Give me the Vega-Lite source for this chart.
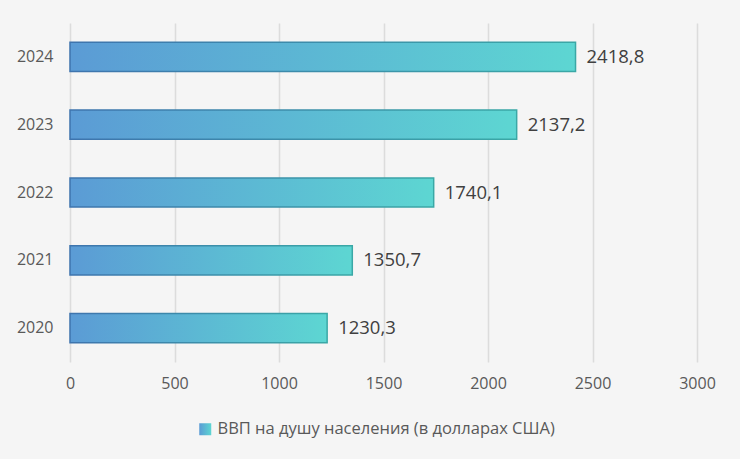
{
  "$schema": "https://vega.github.io/schema/vega-lite/v6.json",
  "autosize": "none",
  "padding": {"left": 70, "top": 23, "right": 43, "bottom": 97},
  "width": 627,
  "height": 339,
  "background": "#F5F5F5",
  "data": {
    "values": [
      {"year": "2024", "gdp": 2418.8},
      {"year": "2023", "gdp": 2137.2},
      {"year": "2022", "gdp": 1740.1},
      {"year": "2021", "gdp": 1350.7},
      {"year": "2020", "gdp": 1230.3}
    ]
  },
  "encoding": {
    "y": {
      "field": "year", "type": "nominal", "sort": null, "title": null,
      "scale": {"paddingInner": 0.57, "paddingOuter": 0.285},
      "axis": {"domain": false, "ticks": false, "labelPadding": 17, "labelFontSize": 16, "labelColor": "#595959", "labelFont": "Open Sans"}
    },
    "x": {
      "field": "gdp", "type": "quantitative", "title": null,
      "scale": {"domain": [0, 3000], "nice": false},
      "axis": {"values": [0, 500, 1000, 1500, 2000, 2500, 3000], "domain": false, "ticks": false, "labelFlush": false, "labelPadding": 13, "labelFontSize": 16, "labelColor": "#595959", "labelFont": "Open Sans", "gridColor": "#DCDCDC", "gridWidth": 1.5, "format": "d"}
    }
  },
  "layer": [
    {
      "mark": {
        "type": "bar",
        "strokeWidth": 1.5,
        "fill": {"gradient": "linear", "x1": 0, "y1": 0, "x2": 1, "y2": 0, "stops": [{"offset": 0, "color": "#5B9BD5"}, {"offset": 1, "color": "#5DD6D2"}]},
        "stroke": {"gradient": "linear", "x1": 0, "y1": 0, "x2": 1, "y2": 0, "stops": [{"offset": 0, "color": "#3E74AE"}, {"offset": 1, "color": "#3AA8A6"}]}
      },
      "encoding": {
        "opacity": {
          "datum": "ВВП на душу населения (в долларах США)", "type": "ordinal",
          "scale": {"range": [1]},
          "legend": {
            "title": null, "orient": "none", "legendX": 127, "legendY": 398,
            "symbolType": "square", "symbolSize": 144, "labelFontSize": 16.5, "labelColor": "#595959", "labelFont": "Open Sans", "labelOffset": 4,
            "symbolFillColor": "#5BB8D4", "symbolStrokeColor": "#3E8AAE", "symbolStrokeWidth": 1,
            "labelLimit": 500
          }
        }
      }
    },
    {
      "mark": {"type": "text", "align": "left", "dx": 11, "fontSize": 18.5, "color": "#404040", "font": "Open Sans"},
      "encoding": {
        "text": {"field": "gdp", "type": "quantitative", "format": ".1f"}
      }
    }
  ],
  "config": {
    "view": {"stroke": null},
    "locale": {"number": {"decimal": ",", "thousands": "", "grouping": [3], "currency": ["", ""]}}
  }
}
